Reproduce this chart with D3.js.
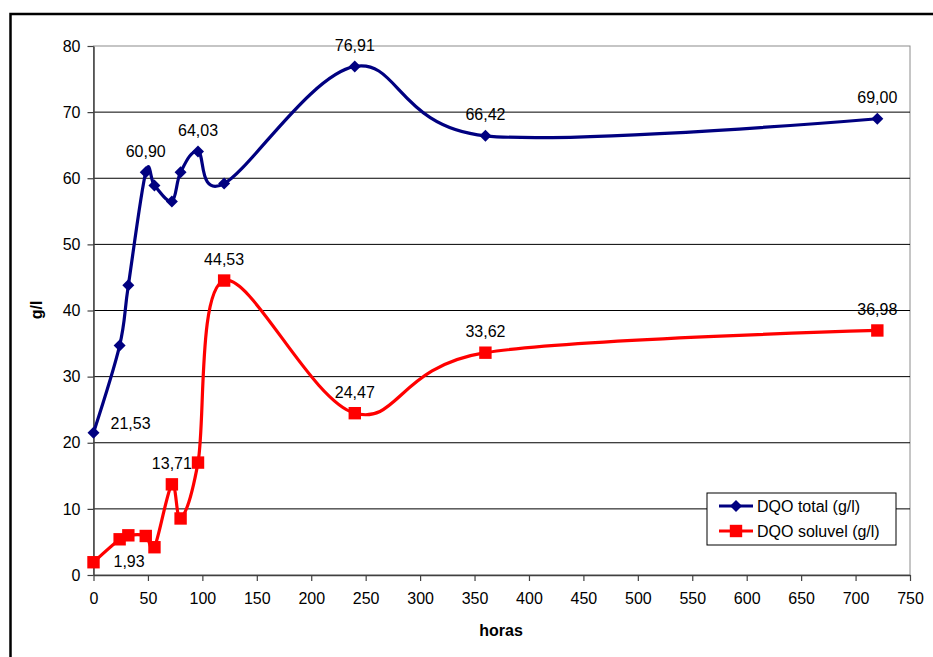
<!DOCTYPE html>
<html>
<head>
<meta charset="utf-8">
<script src="https://cdn.jsdelivr.net/npm/d3@7"></script>
<style>
  html, body { margin: 0; padding: 0; background: #fff; }
  svg { display: block; font-family: "Liberation Sans", Arial, sans-serif; }
</style>
</head>
<body>
<svg id="chart" width="933" height="657"></svg>
<script>
// Sampling times (hours)
const hours = [0, 24, 32, 48, 56, 72, 80, 96, 120, 240, 360, 720];
// Total COD (g/l)
const dqoTotal = [21.53, 34.7, 43.8, 60.90, 58.9, 56.5, 60.9, 64.03, 59.2, 76.91, 66.42, 69.00];
// Soluble COD (g/l)
const dqoSoluvel = [1.93, 5.4, 6.0, 5.9, 4.2, 13.71, 8.55, 17.0, 44.53, 24.47, 33.62, 36.98];
// Hours whose values carry a data label
const labeledTotal = [0, 48, 96, 240, 360, 720];
const labeledSoluvel = [0, 72, 120, 240, 360, 720];
// Axis ticks
const xTickValues = [0, 50, 100, 150, 200, 250, 300, 350, 400, 450, 500, 550, 600, 650, 700, 750];
const yTickValues = [0, 10, 20, 30, 40, 50, 60, 70, 80];
const seriesNames = ["DQO total (g/l)", "DQO soluvel (g/l)"];

const svg = d3.select("#chart");
const FONT = 16;

// outer frame
svg.append("rect").attr("width", 933).attr("height", 657).attr("fill", "#fff");
svg.append("rect")
  .attr("x", 10.5).attr("y", 14).attr("width", 940).attr("height", 660)
  .attr("fill", "none").attr("stroke", "#000").attr("stroke-width", 2.5);

const x = d3.scaleLinear().domain([0, 750]).range([93.5, 910]);
const y = d3.scaleLinear().domain([0, 80]).range([575, 46]);

// plot area border (top / right)
svg.append("rect")
  .attr("x", x(0)).attr("y", y(80))
  .attr("width", x(750) - x(0)).attr("height", y(0) - y(80))
  .attr("fill", "#fff").attr("stroke", "#8c8c8c").attr("stroke-width", 1);

// horizontal gridlines
svg.append("g").selectAll("line")
  .data(yTickValues.filter(v => v > 0 && v < 80))
  .join("line")
  .attr("x1", x(0)).attr("x2", x(750))
  .attr("y1", d => y(d)).attr("y2", d => y(d))
  .attr("stroke", "#000").attr("stroke-width", 1);

// axes
const xAxis = svg.append("g")
  .attr("transform", `translate(0,${y(0)})`)
  .call(d3.axisBottom(x).tickValues(xTickValues).tickFormat(d3.format("d"))
    .tickSizeInner(6).tickSizeOuter(0).tickPadding(12));
const yAxis = svg.append("g")
  .attr("transform", `translate(${x(0)},0)`)
  .call(d3.axisLeft(y).tickValues(yTickValues).tickFormat(d3.format("d"))
    .tickSizeInner(6).tickSizeOuter(0).tickPadding(7));
[xAxis, yAxis].forEach(g => {
  g.attr("font-family", null).attr("font-size", FONT);
  g.select(".domain").attr("stroke", "#404040").attr("stroke-width", 1.5);
  g.selectAll(".tick line").attr("stroke", "#404040").attr("stroke-width", 1.2);
  g.selectAll(".tick text").attr("fill", "#000");
});

// axis titles
svg.append("text")
  .attr("x", 501).attr("y", 636)
  .attr("text-anchor", "middle").attr("font-weight", "bold").attr("font-size", FONT)
  .text("horas");
svg.append("text")
  .attr("transform", "translate(42,310) rotate(-90)")
  .attr("text-anchor", "middle").attr("font-weight", "bold").attr("font-size", FONT)
  .text("g/l");

const curve = d3.curveCardinal.tension(0);
const line = d3.line().x(d => x(d[0])).y(d => y(d[1])).curve(curve);

const series = [
  { name: seriesNames[0], color: "#000080", values: dqoTotal, labeled: labeledTotal, marker: "diamond", firstDy: -9, firstDx: 17 },
  { name: seriesNames[1], color: "#ff0000", values: dqoSoluvel, labeled: labeledSoluvel, marker: "square", firstDy: -1, firstDx: 20 }
];

const diamond = (cx, cy, r) => `M${cx},${cy - r}L${cx + r},${cy}L${cx},${cy + r}L${cx - r},${cy}Z`;

function drawMarker(g, type, cx, cy, color) {
  if (type === "diamond") {
    g.append("path").attr("d", diamond(cx, cy, 6)).attr("fill", color);
  } else {
    g.append("rect").attr("x", cx - 6.2).attr("y", cy - 6.2).attr("width", 12.4).attr("height", 12.4).attr("fill", color);
  }
}

const fmt = v => d3.format(".2f")(v).replace(".", ",");

// data labels (beneath the series, so markers sit on top)
series.forEach(s => {
  hours.forEach((h, i) => {
    if (!s.labeled.includes(h)) return;
    const v = s.values[i];
    const t = svg.append("text").attr("font-size", FONT).attr("fill", "#000").text(fmt(v));
    if (i === 0) {
      t.attr("x", x(h) + s.firstDx).attr("y", y(v) + s.firstDy).attr("dy", "0.35em").attr("text-anchor", "start");
    } else {
      t.attr("x", x(h)).attr("y", y(v) - 21).attr("dy", "0.35em").attr("text-anchor", "middle");
    }
  });
});

series.forEach(s => {
  const pts = hours.map((h, i) => [h, s.values[i]]);
  const g = svg.append("g");
  g.append("path").attr("d", line(pts))
    .attr("fill", "none").attr("stroke", s.color).attr("stroke-width", 3.2)
    .attr("stroke-linejoin", "round");
  pts.forEach(p => drawMarker(g, s.marker, x(p[0]), y(p[1]), s.color));
});

// legend
const lg = svg.append("g");
lg.append("rect").attr("x", 707).attr("y", 493).attr("width", 189).attr("height", 52)
  .attr("fill", "#fff").attr("stroke", "#000").attr("stroke-width", 1);
series.forEach((s, i) => {
  const ry = 506 + i * 25;
  lg.append("line").attr("x1", 719).attr("x2", 753).attr("y1", ry).attr("y2", ry)
    .attr("stroke", s.color).attr("stroke-width", 3.2);
  drawMarker(lg, s.marker, 736, ry, s.color);
  lg.append("text").attr("x", 757).attr("y", ry).attr("dy", "0.35em")
    .attr("font-size", FONT).attr("fill", "#000").text(s.name);
});
</script>
</body>
</html>
